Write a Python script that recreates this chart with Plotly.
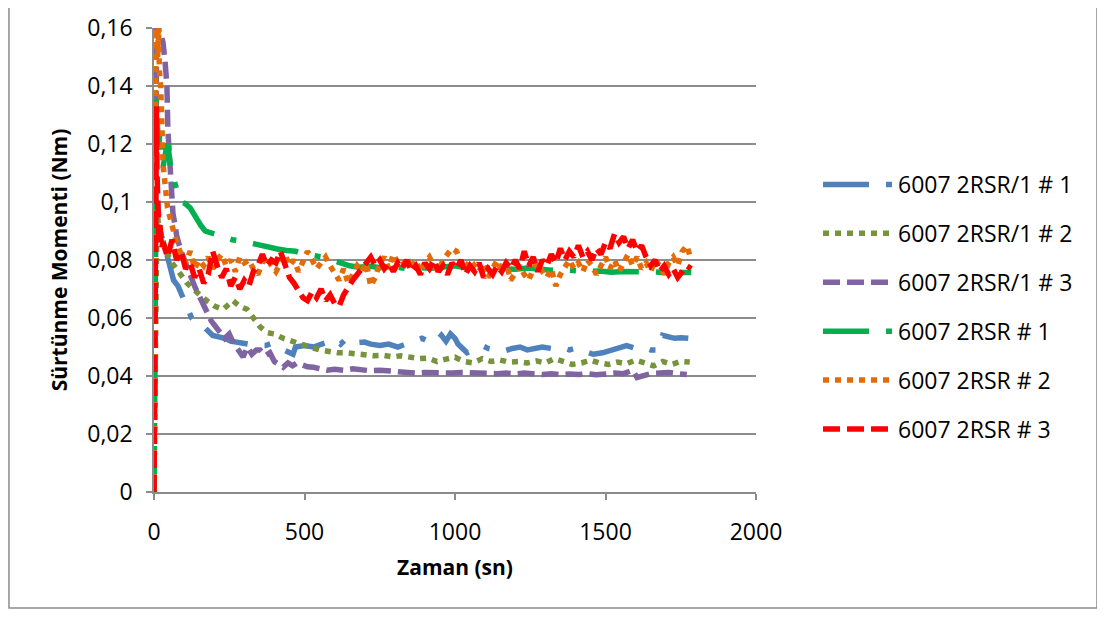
import plotly.graph_objects as go

# ---------------- data ----------------
names = ["6007 2RSR/1 # 1", "6007 2RSR/1 # 2", "6007 2RSR/1 # 3",
         "6007 2RSR # 1", "6007 2RSR # 2", "6007 2RSR # 3"]

# 6007 2RSR/1 # 1 (blue)
s1_t = [0, 3, 6, 12, 20, 35, 50, 65, 80, 95, 110, 125, 140, 156, 175, 195, 215, 235,
        255, 280, 310, 340, 370, 390, 410, 430, 450, 462, 470, 500, 530, 560, 585, 600,
        620, 640, 660, 680, 700, 720, 750, 780, 810, 840, 870, 890, 910, 935, 955, 970,
        985, 1000, 1010, 1040, 1070, 1090, 1110, 1130, 1160, 1190, 1216, 1240, 1260,
        1290, 1320, 1350, 1380, 1405, 1430, 1460, 1490, 1520, 1545, 1570, 1600, 1624,
        1650, 1674, 1684, 1690, 1710, 1730, 1750, 1775]
s1_v = [0, 0.05, 0.09, 0.10, 0.09, 0.085, 0.078, 0.073, 0.071, 0.067, 0.063, 0.060,
        0.059, 0.058, 0.056, 0.054, 0.0535, 0.053, 0.052, 0.0515, 0.051, 0.0505, 0.0505,
        0.0512, 0.050, 0.049, 0.048, 0.0475, 0.050, 0.0505, 0.050, 0.051, 0.052, 0.0525,
        0.051, 0.053, 0.052, 0.0515, 0.0517, 0.051, 0.0505, 0.051, 0.050, 0.051, 0.052,
        0.053, 0.052, 0.0515, 0.054, 0.052, 0.0545, 0.053, 0.051, 0.048, 0.0495, 0.0505,
        0.0495, 0.049, 0.0485, 0.0495, 0.050, 0.049, 0.0495, 0.050, 0.0495, 0.050, 0.049,
        0.0497, 0.0485, 0.0475, 0.048, 0.049, 0.0495, 0.0505, 0.0495, 0.050, 0.049, 0.049,
        0.052, 0.054, 0.0535, 0.053, 0.0532, 0.053]

# 6007 2RSR/1 # 2 (olive)
s2_t = [0, 3, 6, 10, 15, 25, 40, 60, 80, 93, 110, 130, 150, 175, 203, 230, 262, 285,
        309, 330, 352, 375, 400, 429, 455, 485, 518, 550, 580, 610, 640, 670, 700, 730,
        760, 794, 820, 850, 880, 910, 940, 970, 1000, 1030, 1060, 1090, 1120, 1150, 1180,
        1210, 1240, 1270, 1300, 1330, 1360, 1390, 1420, 1450, 1480, 1510, 1540, 1570,
        1600, 1630, 1660, 1690, 1720, 1750, 1780]
s2_v = [0, 0.05, 0.09, 0.097, 0.092, 0.088, 0.083, 0.079, 0.076, 0.074, 0.072, 0.070,
        0.068, 0.066, 0.064, 0.063, 0.066, 0.064, 0.063, 0.060, 0.057, 0.055, 0.0545,
        0.053, 0.052, 0.051, 0.050, 0.049, 0.0485, 0.048, 0.048, 0.0476, 0.0476, 0.047,
        0.0472, 0.0466, 0.047, 0.0465, 0.046, 0.0462, 0.045, 0.0458, 0.0465, 0.045,
        0.0445, 0.046, 0.045, 0.0455, 0.0448, 0.045, 0.0445, 0.0452, 0.0445, 0.046,
        0.0448, 0.044, 0.0445, 0.0455, 0.0445, 0.044, 0.0448, 0.0442, 0.0455, 0.0445,
        0.0435, 0.045, 0.044, 0.045, 0.0448]

# 6007 2RSR/1 # 3 (purple)
s3_t = [0, 2, 4, 6, 9, 13, 18, 25, 30, 37, 43, 46, 52, 60, 63, 70, 76, 90, 103, 120,
        136, 153, 170, 190, 205, 219, 235, 250, 265, 280, 296, 310, 325, 340, 352, 370,
        385, 400, 415, 429, 445, 460, 475, 490, 510, 530, 550, 575, 600, 630, 660, 690,
        720, 750, 780, 810, 840, 870, 900, 930, 960, 990, 1020, 1050, 1080, 1110, 1140,
        1170, 1200, 1230, 1260, 1290, 1320, 1350, 1380, 1410, 1440, 1470, 1500, 1530,
        1560, 1590, 1605, 1620, 1650, 1680, 1710, 1740, 1770]
s3_v = [0, 0.06, 0.12, 0.155, 0.165, 0.162, 0.158, 0.157, 0.155, 0.148, 0.14, 0.125,
        0.115, 0.107, 0.096, 0.092, 0.088, 0.083, 0.079, 0.075, 0.0707, 0.067, 0.063,
        0.059, 0.057, 0.055, 0.053, 0.0545, 0.051, 0.049, 0.0466, 0.050, 0.0475, 0.049,
        0.049, 0.047, 0.048, 0.045, 0.044, 0.043, 0.0445, 0.0435, 0.0445, 0.0438, 0.0432,
        0.043, 0.0425, 0.042, 0.0423, 0.042, 0.0425, 0.042, 0.0418, 0.042, 0.0417,
        0.0415, 0.0413, 0.041, 0.0412, 0.041, 0.0408, 0.041, 0.0412, 0.041, 0.0408,
        0.041, 0.0408, 0.041, 0.0407, 0.041, 0.0408, 0.0405, 0.0408, 0.0405, 0.0407,
        0.0405, 0.0408, 0.0404, 0.0407, 0.041, 0.0408, 0.042, 0.0395, 0.040, 0.0408,
        0.041, 0.0412, 0.0408, 0.0405]

# 6007 2RSR # 1 (green)
s4_t = [0, 2, 4, 6, 10, 15, 20, 30, 40, 46, 55, 65, 76, 90, 103, 120, 140, 155, 170,
        200, 230, 260, 290, 320, 350, 380, 410, 440, 470, 500, 530, 560, 590, 620, 650,
        680, 720, 760, 800, 840, 880, 920, 960, 1000, 1040, 1080, 1120, 1160, 1200,
        1240, 1280, 1320, 1360, 1400, 1440, 1480, 1520, 1560, 1600, 1640, 1680, 1720,
        1760, 1785]
s4_v = [0, 0.05, 0.10, 0.138, 0.13, 0.118, 0.125, 0.112, 0.118, 0.120, 0.112, 0.108,
        0.104, 0.100, 0.0995, 0.098, 0.094, 0.092, 0.090, 0.089, 0.088, 0.087, 0.0866,
        0.0858, 0.085, 0.0843, 0.0838, 0.0833, 0.083, 0.082, 0.0815, 0.081, 0.080,
        0.079, 0.078, 0.0775, 0.0778, 0.0772, 0.0776, 0.077, 0.0774, 0.0772, 0.0778,
        0.078, 0.0772, 0.0768, 0.0772, 0.077, 0.0768, 0.0772, 0.0768, 0.0765, 0.0766,
        0.0762, 0.076, 0.0762, 0.0758, 0.076, 0.0758, 0.076, 0.0758, 0.0757, 0.0758,
        0.0757]

# 6007 2RSR # 2 (orange): start-up part, then one reading every 15 s from 30 s
s5_t0 = [0, 2, 4, 6, 9, 12, 15, 18, 22, 26]
s5_v0 = [0, 0.06, 0.13, 0.162, 0.158, 0.150, 0.160, 0.145, 0.140, 0.128]
s5_v = [0.113, 0.098, 0.091, 0.086, 0.082, 0.079, 0.083, 0.077, 0.080, 0.078, 0.081,
        0.077, 0.080, 0.082, 0.078, 0.080, 0.076, 0.081, 0.079, 0.080, 0.077, 0.075,
        0.079, 0.081, 0.078, 0.076, 0.079, 0.082, 0.078, 0.080, 0.076, 0.079, 0.083,
        0.080, 0.077, 0.079, 0.081, 0.078, 0.075, 0.073, 0.077, 0.072, 0.075, 0.078,
        0.076, 0.079, 0.071, 0.074, 0.079, 0.081, 0.077, 0.082, 0.079, 0.078, 0.081,
        0.077, 0.080, 0.076, 0.079, 0.081, 0.078, 0.076, 0.080, 0.082, 0.084, 0.083,
        0.079, 0.077, 0.080, 0.078, 0.076, 0.079, 0.074, 0.077, 0.080, 0.076, 0.079,
        0.073, 0.076, 0.078, 0.075, 0.073, 0.077, 0.079, 0.076, 0.074, 0.077, 0.071,
        0.075, 0.078, 0.080, 0.077, 0.079, 0.076, 0.080, 0.078, 0.075, 0.078, 0.081,
        0.077, 0.080, 0.076, 0.079, 0.082, 0.078, 0.081, 0.077, 0.079, 0.076, 0.080,
        0.078, 0.075, 0.079, 0.081, 0.078, 0.083, 0.085, 0.080]

# 6007 2RSR # 3 (red): start-up part, then one reading every 15 s from 30 s
s6_t0 = [0, 1, 3, 5, 8, 10, 13, 16, 20, 25]
s6_v0 = [0, 0.03, 0.09, 0.125, 0.133, 0.11, 0.095, 0.088, 0.092, 0.084]
s6_v = [0.086, 0.081, 0.087, 0.080, 0.083, 0.077, 0.079, 0.074, 0.077, 0.072, 0.075,
        0.083, 0.078, 0.074, 0.077, 0.071, 0.074, 0.070, 0.073, 0.071, 0.076, 0.078,
        0.082, 0.078, 0.080, 0.079, 0.083, 0.078, 0.074, 0.072, 0.069, 0.067, 0.066,
        0.069, 0.067, 0.070, 0.066, 0.068, 0.065, 0.064, 0.068, 0.071, 0.073, 0.075,
        0.077, 0.079, 0.081, 0.078, 0.080, 0.077, 0.079, 0.076, 0.079, 0.077, 0.080,
        0.076, 0.078, 0.075, 0.079, 0.077, 0.080, 0.076, 0.078, 0.075, 0.079, 0.077,
        0.080, 0.075, 0.078, 0.076, 0.079, 0.074, 0.077, 0.075, 0.078, 0.076, 0.079,
        0.077, 0.080, 0.077, 0.083, 0.078, 0.081, 0.076, 0.080, 0.078, 0.082, 0.079,
        0.084, 0.080, 0.083, 0.081, 0.085, 0.081, 0.083, 0.080, 0.084, 0.082, 0.086,
        0.084, 0.089, 0.086, 0.088, 0.084, 0.087, 0.083, 0.085, 0.081, 0.078, 0.080,
        0.076, 0.078, 0.075, 0.077, 0.074, 0.076, 0.078, 0.077]

STEP_START, STEP = 30, 15
s5_t = s5_t0 + [STEP_START + STEP * i for i in range(len(s5_v))]
s6_t = s6_t0 + [STEP_START + STEP * i for i in range(len(s6_v))]
s5_all = s5_v0 + s5_v
s6_all = s6_v0 + s6_v

x_ticks = [0, 500, 1000, 1500, 2000]
y_ticks = [0, 0.02, 0.04, 0.06, 0.08, 0.10, 0.12, 0.14, 0.16]
y_labels = ["0", "0,02", "0,04", "0,06", "0,08", "0,1", "0,12", "0,14", "0,16"]

x_title = "Zaman (sn)"
y_title = "Sürtünme Momenti (Nm)"

# ---------------- styling ----------------
colors = ["#4F81BD", "#77933C", "#8064A2", "#00B050", "#E36C09", "#FF0000"]
dashes = ["46px,17px,6px,17px", "6px,6px", "17px,7px",
          "46px,17px,6px,17px", "6px,6px", "17px,7px"]
LW = 5.5
FONT = "'Open Sans', Lato, sans-serif"

series_t = [s1_t, s2_t, s3_t, s4_t, s5_t, s6_t]
series_v = [s1_v, s2_v, s3_v, s4_v, s5_all, s6_all]

fig = go.Figure()
for i in range(6):
    fig.add_trace(go.Scatter(
        x=series_t[i], y=series_v[i], mode="lines", name=names[i],
        legendgroup=names[i],
        line=dict(color=colors[i], width=LW, dash=dashes[i]),
        cliponaxis=True,
    ))

axis_common = dict(showline=True, linecolor="#8c8c8c", linewidth=1.5,
                   ticks="outside", ticklen=6, tickcolor="#8c8c8c", tickwidth=1.5,
                   tickfont=dict(family=FONT, size=23, color="#000000"),
                   zeroline=False)

fig.update_xaxes(range=[0, 2000], tickvals=x_ticks, showgrid=False,
                 title=dict(text="<b>" + x_title + "</b>", standoff=14,
                            font=dict(family=FONT, size=21, color="#000000")),
                 ticklabelstandoff=13, **axis_common)
fig.update_yaxes(range=[0, 0.16], tickvals=y_ticks, ticktext=y_labels,
                 showgrid=True, gridcolor="#8c8c8c", gridwidth=2,
                 title=dict(text="<b>" + y_title + "</b>", standoff=14,
                            font=dict(family=FONT, size=21, color="#000000")),
                 ticklabelstandoff=9, **axis_common)

# the page body adds an 8 px offset, so the figure is 8 px smaller and margins shifted
fig.update_layout(
    width=1097, height=610,
    margin=dict(l=146, r=349, t=20, b=126, autoexpand=False),
    paper_bgcolor="#ffffff", plot_bgcolor="#ffffff",
    font=dict(family=FONT, size=23, color="#000000"),
    showlegend=True,
    legend=dict(x=1.103, y=0.709, xanchor="left", yanchor="top",
                itemwidth=70, tracegroupgap=16, traceorder="grouped",
                font=dict(family=FONT, size=23, color="#000000"),
                bgcolor="rgba(0,0,0,0)"),
    shapes=[dict(type="rect", xref="paper", yref="paper",
                 x0=-0.2409, x1=1.5664, y0=-0.25, y1=1.08,
                 line=dict(color="#8c8c8c", width=1.5), layer="below")],
)

fig.write_html("out.html")
